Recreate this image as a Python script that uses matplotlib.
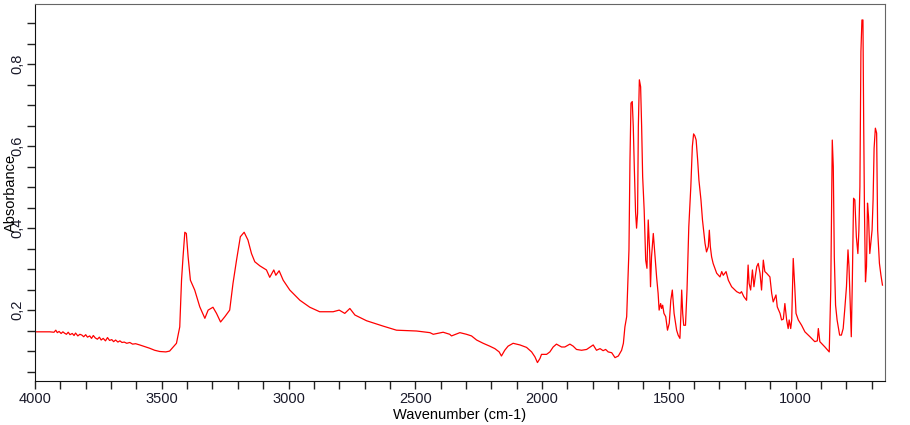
import matplotlib
matplotlib.use("Agg")
from matplotlib import pyplot as plt
from matplotlib.ticker import MultipleLocator, FuncFormatter

plt.rcParams['font.family'] = ['Liberation Sans', 'DejaVu Sans']

# Spectrum, split by region (wavenumber cm-1 / absorbance)
wn_base = [4000, 3942, 3925, 3918, 3912, 3905, 3897, 3890, 3884, 3876, 3869, 3862, 3853,
           3846, 3840, 3831, 3823, 3815, 3808, 3800, 3793, 3784, 3777, 3770, 3762, 3754,
           3746, 3739, 3731, 3722, 3714, 3706, 3697, 3690, 3682, 3673, 3665, 3657, 3648,
           3638, 3626, 3615, 3603, 3587, 3568, 3548, 3528, 3508, 3484, 3469]
abs_base = [0.147, 0.147, 0.146, 0.151, 0.145, 0.148, 0.143, 0.147, 0.144, 0.141, 0.146,
            0.140, 0.143, 0.138, 0.144, 0.137, 0.141, 0.139, 0.135, 0.140, 0.134, 0.137,
            0.131, 0.138, 0.132, 0.129, 0.134, 0.127, 0.131, 0.125, 0.133, 0.126, 0.128,
            0.123, 0.127, 0.122, 0.125, 0.121, 0.122, 0.119, 0.121, 0.117, 0.118, 0.115,
            0.111, 0.107, 0.102, 0.099, 0.098, 0.100]

wn_oh = [3442, 3429, 3422, 3416, 3409, 3403, 3396, 3387, 3370, 3350, 3330, 3317, 3298,
         3284, 3268, 3251, 3232, 3219, 3205, 3190, 3175, 3160, 3146, 3133, 3113, 3087,
         3074, 3058, 3050, 3037, 3021, 2995, 2955, 2916, 2877, 2824, 2800, 2778, 2758,
         2738, 2692, 2627, 2574, 2495, 2442, 2429, 2390, 2364]
abs_oh = [0.119, 0.159, 0.273, 0.330, 0.390, 0.387, 0.330, 0.273, 0.249, 0.208, 0.180,
          0.200, 0.207, 0.192, 0.171, 0.184, 0.200, 0.265, 0.322, 0.379, 0.390, 0.371,
          0.338, 0.318, 0.308, 0.298, 0.280, 0.298, 0.285, 0.296, 0.273, 0.249, 0.224,
          0.207, 0.196, 0.196, 0.200, 0.192, 0.204, 0.188, 0.174, 0.161, 0.151, 0.149,
          0.145, 0.141, 0.146, 0.141]

wn_mid = [2357, 2324, 2298, 2278, 2258, 2232, 2206, 2186, 2169, 2160, 2147, 2134, 2114,
          2087, 2061, 2041, 2028, 2018, 2008, 2002, 1982, 1969, 1956, 1943, 1923, 1910,
          1890, 1877, 1864, 1844, 1824, 1798, 1785, 1771, 1759, 1749, 1739, 1725, 1712,
          1699, 1686, 1679, 1673, 1666]
abs_mid = [0.137, 0.145, 0.141, 0.137, 0.127, 0.119, 0.112, 0.106, 0.098, 0.088, 0.102,
           0.112, 0.119, 0.115, 0.109, 0.098, 0.086, 0.072, 0.082, 0.092, 0.092, 0.098,
           0.110, 0.117, 0.110, 0.110, 0.117, 0.112, 0.104, 0.102, 0.104, 0.115, 0.102,
           0.106, 0.101, 0.104, 0.098, 0.096, 0.084, 0.088, 0.102, 0.119, 0.159, 0.184]

wn_co = [1662, 1657, 1653, 1649, 1644, 1640, 1636, 1631, 1627, 1623, 1620, 1616, 1611,
         1607, 1603, 1597, 1591, 1586, 1581, 1575, 1572, 1568, 1561, 1555, 1548, 1542,
         1538, 1532, 1528, 1524, 1519, 1512, 1505, 1498, 1492, 1486, 1479, 1469, 1463,
         1456, 1452, 1449, 1445, 1441, 1434, 1428, 1421, 1413, 1407, 1402, 1397, 1392,
         1386, 1381, 1373, 1367, 1357, 1351, 1344, 1340, 1336, 1331, 1325]
abs_co = [0.257, 0.347, 0.566, 0.705, 0.709, 0.648, 0.550, 0.440, 0.400, 0.436, 0.648,
          0.762, 0.745, 0.648, 0.526, 0.444, 0.322, 0.302, 0.420, 0.338, 0.257, 0.330,
          0.387, 0.338, 0.281, 0.241, 0.200, 0.216, 0.204, 0.212, 0.192, 0.184, 0.151,
          0.168, 0.224, 0.249, 0.192, 0.151, 0.139, 0.131, 0.192, 0.249, 0.192, 0.163,
          0.163, 0.249, 0.403, 0.501, 0.599, 0.630, 0.625, 0.615, 0.566, 0.517, 0.469,
          0.420, 0.363, 0.342, 0.355, 0.395, 0.355, 0.330, 0.314]

wn_fp = [1311, 1298, 1291, 1285, 1274, 1265, 1252, 1232, 1219, 1213, 1204, 1193, 1187,
         1183, 1177, 1170, 1164, 1159, 1153, 1147, 1140, 1134, 1127, 1121, 1114, 1101,
         1094, 1088, 1077, 1072, 1061, 1055, 1048, 1042, 1035, 1029, 1025, 1019, 1015,
         1009, 1003, 998, 989, 976, 963, 943, 924, 914, 910, 904, 884, 867, 861, 855,
         851, 847, 842, 836, 826, 819, 812, 806, 799, 793, 789, 784, 780, 776, 771, 766,
         760, 754, 750, 746, 742, 738, 734, 731, 728, 724, 720, 716, 712, 707, 702, 698,
         694, 690, 685, 680, 676, 669, 663, 657]
abs_fp = [0.290, 0.281, 0.294, 0.285, 0.294, 0.273, 0.257, 0.245, 0.241, 0.245, 0.233,
          0.224, 0.310, 0.265, 0.249, 0.298, 0.257, 0.281, 0.306, 0.314, 0.290, 0.249,
          0.322, 0.294, 0.290, 0.281, 0.241, 0.220, 0.237, 0.208, 0.192, 0.176, 0.178,
          0.216, 0.176, 0.155, 0.176, 0.155, 0.176, 0.326, 0.257, 0.192, 0.176, 0.163,
          0.147, 0.135, 0.123, 0.125, 0.155, 0.123, 0.110, 0.098, 0.249, 0.615, 0.550,
          0.330, 0.212, 0.176, 0.139, 0.139, 0.155, 0.200, 0.257, 0.347, 0.306, 0.208,
          0.135, 0.265, 0.473, 0.469, 0.379, 0.338, 0.395, 0.501, 0.831, 0.908, 0.908,
          0.648, 0.444, 0.269, 0.306, 0.461, 0.428, 0.338, 0.371, 0.395, 0.469, 0.595,
          0.644, 0.632, 0.395, 0.314, 0.285, 0.261]

wavenumber = wn_base + wn_oh + wn_mid + wn_co + wn_fp
absorbance = abs_base + abs_oh + abs_mid + abs_co + abs_fp

fig = plt.figure(figsize=(9.1, 4.25), dpi=100)
ax = fig.add_axes([35 / 910, 44 / 425, 850 / 910, 377 / 425])
ax.plot(wavenumber, absorbance, color='red', lw=0.9)

ax.set_xlim(4000, 647)
ax.set_ylim(0.027, 0.947)

ax.xaxis.set_major_locator(MultipleLocator(500))
ax.xaxis.set_minor_locator(MultipleLocator(100))
ax.yaxis.set_major_locator(MultipleLocator(0.2))
ax.yaxis.set_minor_locator(MultipleLocator(0.05))
ax.yaxis.set_major_formatter(FuncFormatter(lambda v, p: f"{v:.1f}".replace('.', ',')))
ax.tick_params(which='both', direction='out', length=6, width=1, color='#222222',
               labelsize=10.5, labelcolor='#1a1a2a', pad=2)
plt.setp(ax.get_yticklabels(), rotation=90, va='center')

ax.set_xlabel("Wavenumber (cm-1)", fontsize=10.5, labelpad=1)
ax.set_ylabel("Absorbance", fontsize=10.5)
ax.yaxis.set_label_coords(-0.02, 0.5)

for side in ['left', 'bottom']:
    ax.spines[side].set_color('#111111')
for side in ['top', 'right']:
    ax.spines[side].set_color('#666666')

plt.savefig("out.png", dpi=100)
plt.close()
